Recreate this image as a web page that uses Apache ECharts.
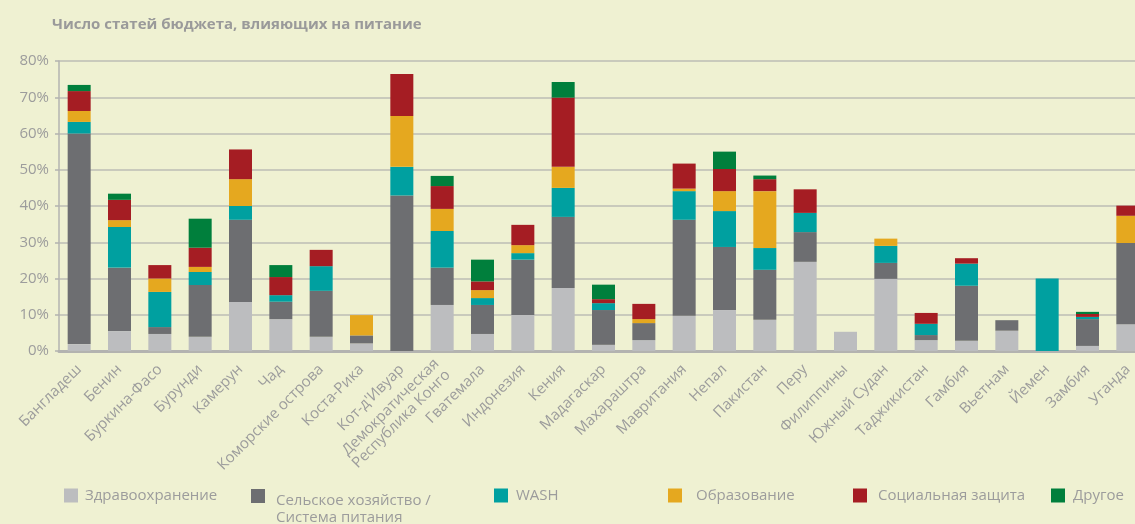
<!DOCTYPE html>
<html>
<head>
<meta charset="utf-8">
<script src="https://cdn.jsdelivr.net/npm/echarts@6/dist/echarts.min.js"></script>
<style>
html,body{margin:0;padding:0;background:#eff1d2;}
#c{width:1135px;height:524px;}
</style>
</head>
<body>
<div id="c"></div>
<script>
const categories = ['Бангладеш','Бенин','Буркина-Фасо','Бурунди','Камерун','Чад','Коморские острова','Коста-Рика','Кот-д\'Ивуар','Демократическая\nРеспублика Конго','Гватемала','Индонезия','Кения','Мадагаскар','Махараштра','Мавритания','Непал','Пакистан','Перу','Филиппины','Южный Судан','Таджикистан','Гамбия','Вьетнам','Йемен','Замбия','Уганда'];
const seriesNames = ['Здравоохранение','Сельское хозяйство /\nСистема питания','WASH','Образование','Социальная защита','Другое'];
const health = [1.9,5.5,4.7,3.9,13.5,8.8,3.9,2.1,0,12.7,4.7,9.9,17.4,1.7,3.0,9.7,11.3,8.6,24.6,5.3,19.9,3.0,2.8,5.6,0,1.4,7.4];
const agriculture = [58.1,17.5,1.9,14.3,22.7,4.8,12.7,2.2,42.9,10.3,8.0,15.3,19.6,9.6,4.7,26.5,17.4,13.8,8.2,0,4.4,1.4,15.2,2.9,0,7.4,22.4];
const wash = [3.2,11.2,9.7,3.6,3.8,1.8,6.8,0,7.9,10.1,1.9,1.8,8.0,1.9,0,7.9,9.9,6.0,5.3,0,4.7,3.1,6.1,0,20.0,0.6,0];
const education = [3.0,1.9,3.7,1.4,7.4,0,0,5.6,14.0,6.1,2.2,2.2,5.8,0,1.1,0.7,5.5,15.7,0,0,2.0,0,0,0,0,0,7.5];
const social = [5.5,5.6,3.7,5.3,8.2,5.0,4.5,0,11.6,6.3,2.4,5.6,19.1,1.1,4.2,6.9,6.1,3.3,6.5,0,0,3.0,1.5,0,0,0.8,2.8];
const other = [1.7,1.7,0,8.0,0,3.3,0,0,0,2.8,6.0,0,4.3,4.0,0,0,4.8,1.0,0,0,0,0,0,0,0,0.6,0];
const yTicks = [0,10,20,30,40,50,60,70,80];

const colors = ['#bcbdbf','#6d6e71','#00a0a0','#e5a81f','#a51d23','#007f3c'];
const dataList = [health, agriculture, wash, education, social, other];
const FONT = '"Open Sans", "Noto Sans", sans-serif';
const TXT = '#9c9c9c';

const legendPos = [
  {left: 59, top: 482, pad: [0,0,0,2]},
  {left: 246, top: 461, pad: [0,0,0,6]},
  {left: 489, top: 482, pad: [0,0,0,3]},
  {left: 663, top: 482, pad: [0,0,0,9]},
  {left: 848, top: 482, pad: [0,0,0,6]},
  {left: 1046, top: 482, pad: [0,0,0,3]}
];

const chart = echarts.init(document.getElementById('c'));
chart.setOption({
  backgroundColor: '#eff1d2',
  animation: false,
  title: {
    text: 'Число статей бюджета, влияющих на питание',
    left: 47, top: 12,
    textStyle: {color: '#9a9a9a', fontSize: 15, fontWeight: 'bold', fontFamily: FONT}
  },
  legend: seriesNames.map((n, i) => ({
    data: [n],
    left: legendPos[i].left,
    top: legendPos[i].top,
    itemWidth: 14, itemHeight: 14,
    icon: 'rect',
    selectedMode: false,
    formatter: i === 1 ? (name => '{s| }\n' + name.split('\n').map(t => '{t|' + t + '}').join('\n')) : undefined,
    textStyle: {
      color: TXT, fontSize: 15, fontFamily: FONT, lineHeight: 17, padding: legendPos[i].pad,
      rich: {
        s: {fontSize: 15, lineHeight: 26, color: TXT, fontFamily: FONT},
        t: {fontSize: 15, lineHeight: 17, color: TXT, fontFamily: FONT}
      }
    }
  })),
  grid: {left: 59, width: 1089, top: 61, bottom: 173, containLabel: false, outerBoundsMode: 'none'},
  xAxis: {
    type: 'category',
    data: categories,
    axisLine: {lineStyle: {color: '#b3b3b0', width: 3}},
    axisTick: {show: false},
    axisLabel: {rotate: 45, color: TXT, fontSize: 15, fontFamily: FONT, margin: 16, interval: 0, lineHeight: 16}
  },
  yAxis: {
    type: 'value',
    min: yTicks[0], max: yTicks[yTicks.length-1], interval: 10,
    axisLine: {show: true, lineStyle: {color: '#b3b3b0', width: 1.5}},
    axisTick: {show: true, length: 4, lineStyle: {color: '#b3b3b0', width: 1.5}},
    axisLabel: {formatter: '{value}%', color: TXT, fontSize: 15, fontFamily: FONT, margin: 10},
    splitLine: {lineStyle: {color: '#bcbcb4', width: 1.5}}
  },
  series: seriesNames.map((n, i) => ({
    name: n,
    type: 'bar',
    stack: 'total',
    barWidth: 23,
    data: dataList[i],
    itemStyle: {color: colors[i]}
  }))
});
</script>
</body>
</html>
